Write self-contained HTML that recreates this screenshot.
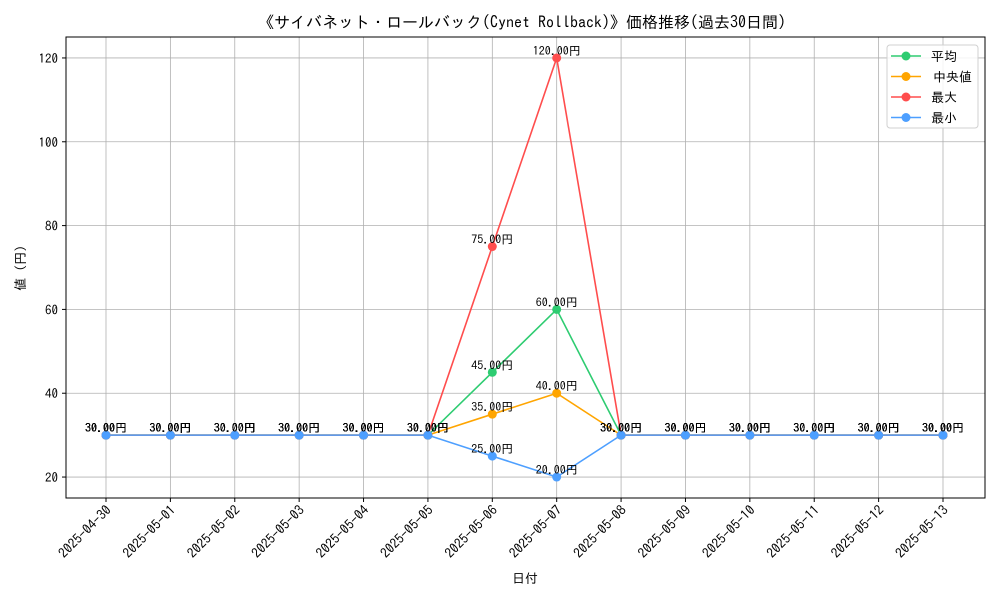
<!DOCTYPE html>
<html><head><meta charset="utf-8"><style>
body{margin:0;background:#fff;}
svg text{font-family:"IPAGothic","Liberation Mono","Noto Sans CJK JP",monospace;fill:#000;}
</style></head><body>
<svg id="chart" width="1000" height="600" xmlns="http://www.w3.org/2000/svg"></svg>
<script>
const categories=["2025-04-30","2025-05-01","2025-05-02","2025-05-03","2025-05-04","2025-05-05","2025-05-06","2025-05-07","2025-05-08","2025-05-09","2025-05-10","2025-05-11","2025-05-12","2025-05-13"];
const meanValues=[30,30,30,30,30,30,45,60,30,30,30,30,30,30];
const medianValues=[30,30,30,30,30,30,35,40,30,30,30,30,30,30];
const maxValues=[30,30,30,30,30,30,75,120,30,30,30,30,30,30];
const minValues=[30,30,30,30,30,30,25,20,30,30,30,30,30,30];
const yTicks=[20,40,60,80,100,120];
const seriesNames=["平均","中央値","最大","最小"];

const NS="http://www.w3.org/2000/svg";
const svg=document.getElementById('chart');
const L=66,R=985,T=37,B=498,yMin=15,yMax=125;
const x=i=>106+i*(943-106)/(categories.length-1);
const y=v=>B-(v-yMin)/(yMax-yMin)*(B-T);
function el(tag,attrs,parent){const e=document.createElementNS(NS,tag);for(const k in attrs)e.setAttribute(k,attrs[k]);(parent||svg).appendChild(e);return e;}

yTicks.forEach(t=>{
 const g=el('line',{x1:L,x2:R,y1:y(t),y2:y(t),stroke:'#b0b0b0','stroke-width':0.8});
 
 
 el('line',{x1:L-4,x2:L,y1:y(t),y2:y(t),stroke:'#000'});
 const tx=el('text',{x:L-8,y:y(t)+5,'text-anchor':'end','font-size':13});
 tx.textContent=t;
 
 
});
categories.forEach((c,i)=>{
 const g=el('line',{x1:x(i),x2:x(i),y1:T,y2:B,stroke:'#b0b0b0','stroke-width':0.8});
 
 
 el('line',{x1:x(i),x2:x(i),y1:B,y2:B+4,stroke:'#000'});
 const tx=el('text',{x:0,y:0,'text-anchor':'end','font-size':13.5,transform:`translate(${x(i)+6},${B+13}) rotate(-45)`});
 tx.textContent=c;
 
 
});
const frame=el('rect',{x:L,y:T,width:R-L,height:B-T,fill:'none',stroke:'#000','stroke-width':1});



const series=[[meanValues,'#2ecc71','mean'],[medianValues,'#ffa500','median'],[maxValues,'#ff4d4d','max'],[minValues,'#4d9fff','min']];
series.forEach(([vals,col,nm])=>{
 const p=el('polyline',{points:vals.map((v,i)=>x(i)+','+y(v)).join(' '),fill:'none',stroke:col,'stroke-width':1.6});
 
 
 vals.forEach((v,i)=>{
  const c=el('circle',{cx:x(i),cy:y(v),r:4.5,fill:col});
  
  
  const t=el('text',{x:x(i),y:y(v)-3,'text-anchor':'middle','font-size':12});
  t.textContent=v.toFixed(2)+'円';
  
  
 });
});

const lg=el('g',{});


el('rect',{x:887,y:45,width:91,height:83,rx:3,fill:'#fff','fill-opacity':0.85,stroke:'#d0d0d0'},lg);
series.forEach(([v,col,nm],k)=>{
 const yy=56+k*20.5;
 const ent=el('g',{},lg);
 
 
 el('line',{x1:891,x2:921,y1:yy,y2:yy,stroke:col,'stroke-width':1.6},ent);
 el('circle',{cx:906,cy:yy,r:4.5,fill:col},ent);
 const t=el('text',{x:k==1?933:931,y:yy+5,'font-size':13},ent);
 t.textContent=seriesNames[k];
});

const title=el('text',{x:522,y:28,'text-anchor':'middle','font-size':16});
title.textContent='《サイバネット・ロールバック(Cynet Rollback)》価格推移(過去30日間)';


const xl=el('text',{x:525,y:583,'text-anchor':'middle','font-size':13});
xl.textContent='日付';


const yl=el('text',{x:0,y:0,'text-anchor':'middle','font-size':13,transform:'translate(25,268) rotate(-90)'});
yl.textContent='値 (円)';


</script>
</body></html>
